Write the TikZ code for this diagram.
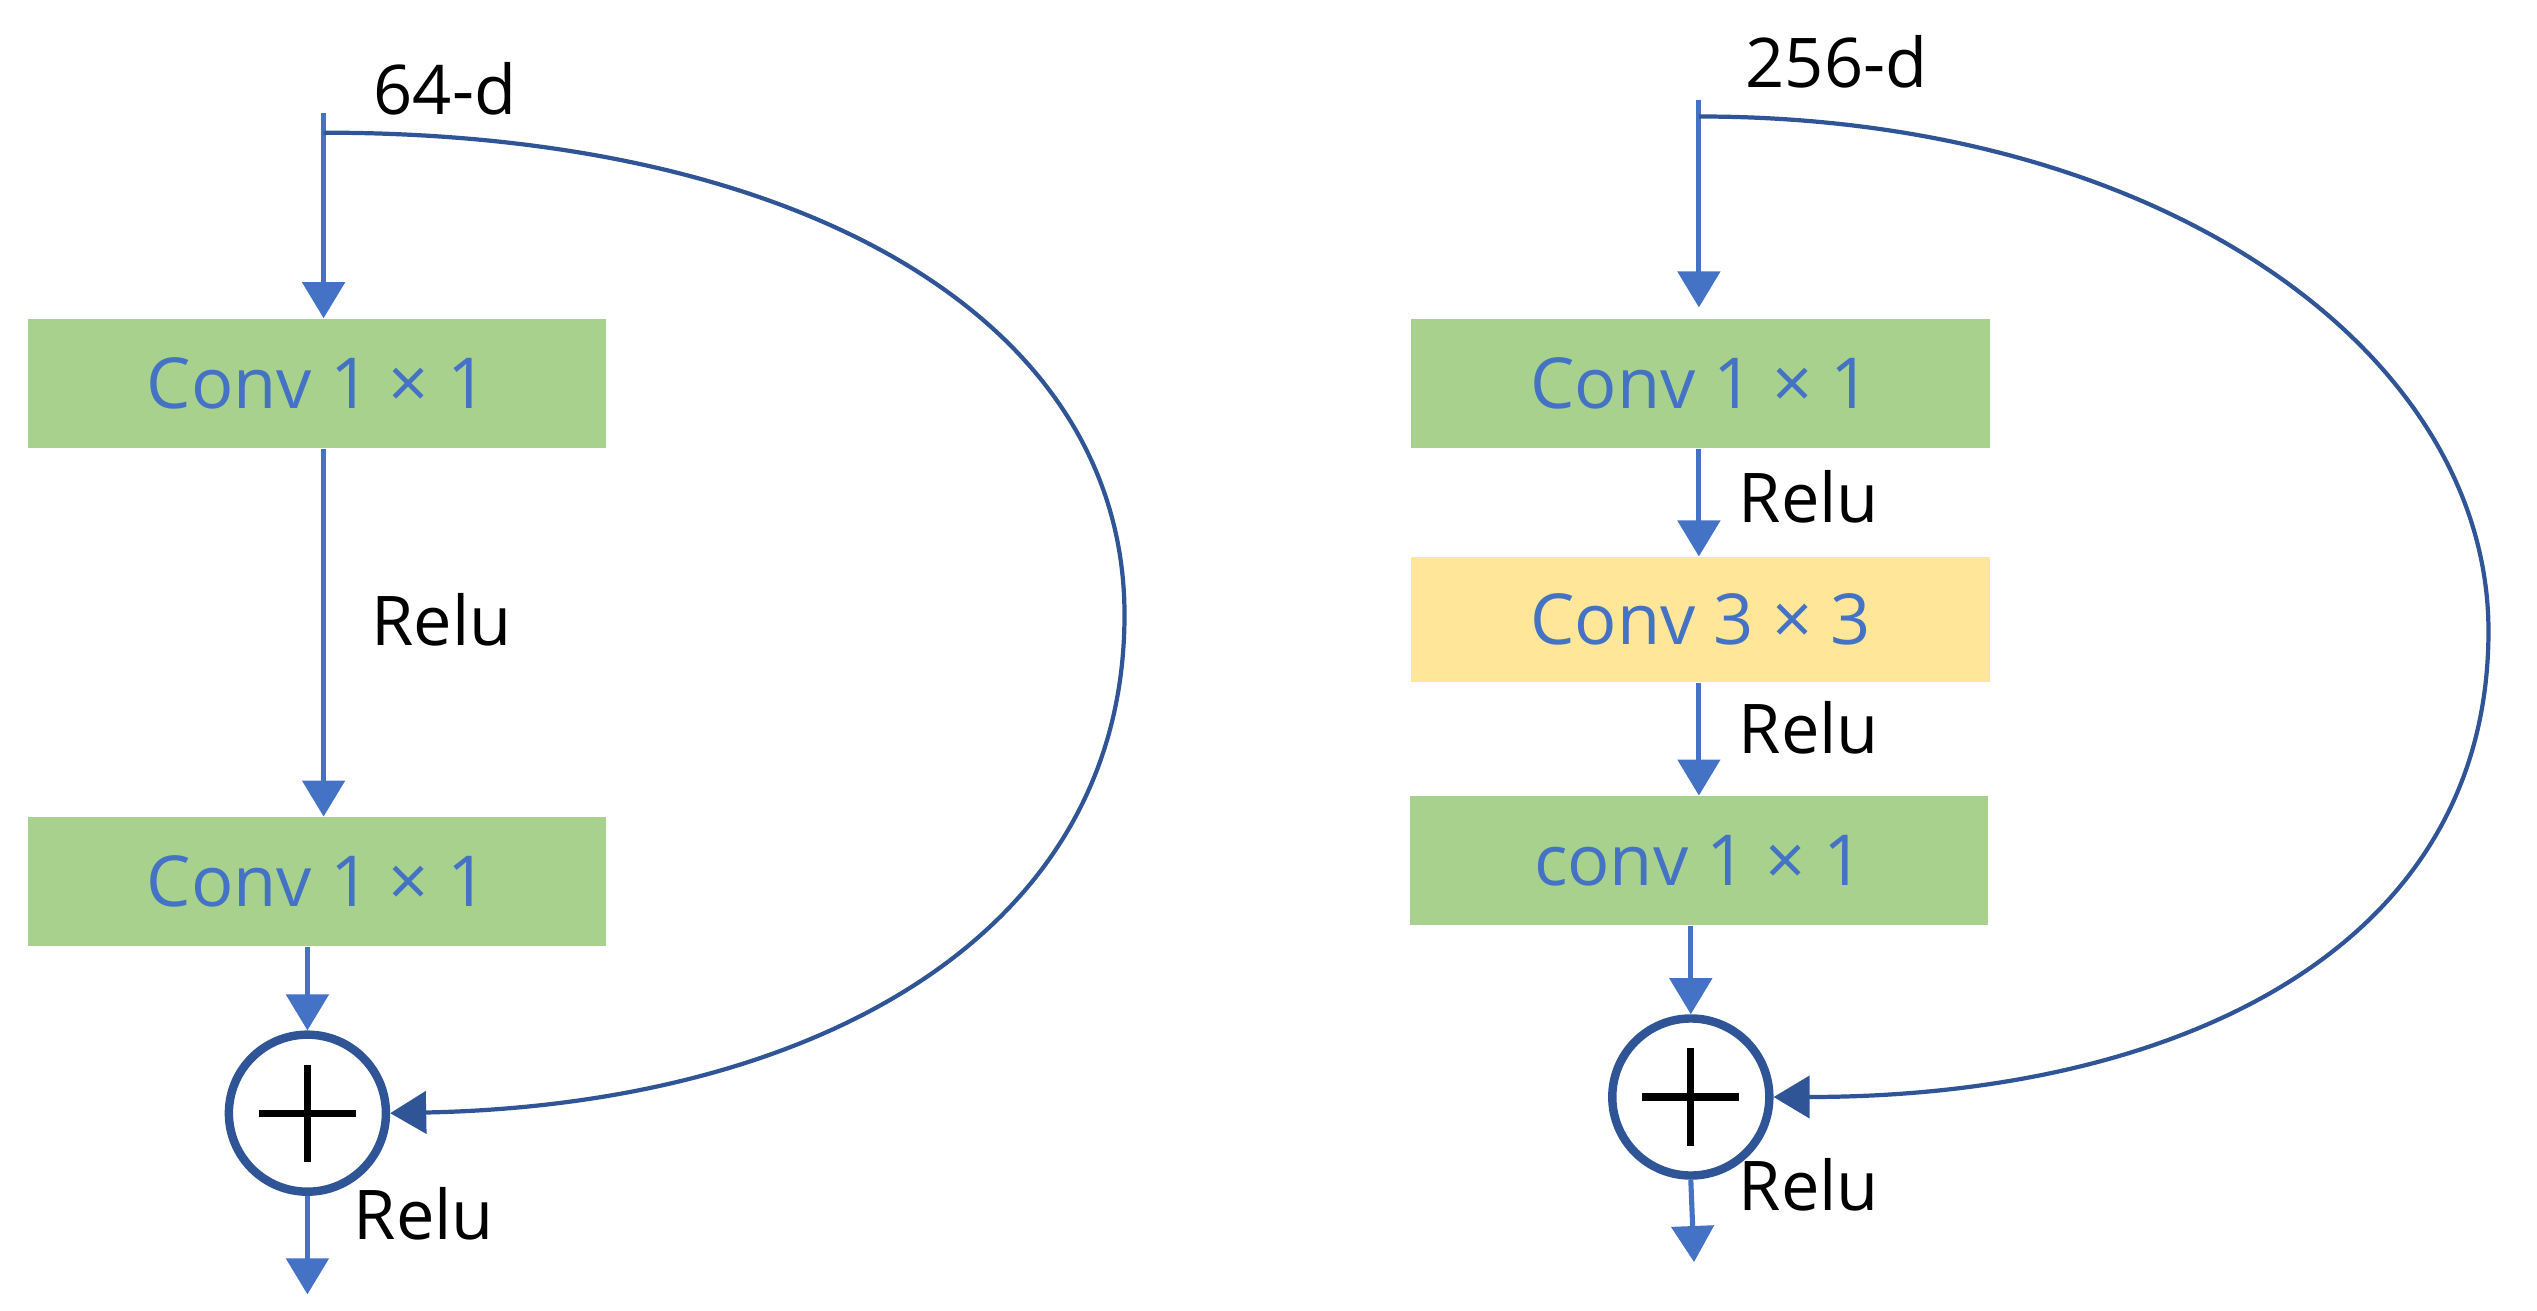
\documentclass[tikz,border=0pt]{standalone}
\usepackage{fontspec}
\setmainfont{Open Sans}
\usetikzlibrary{arrows.meta}
\definecolor{lb}{HTML}{4472C4}
\definecolor{db}{HTML}{2F5597}
\definecolor{gr}{HTML}{A9D18E}
\definecolor{yl}{HTML}{FFE699}
\begin{document}
\begin{tikzpicture}[x=0.01618cm,y=-0.01618cm,
  box/.style={draw=none,minimum width=5.78cm,minimum height=1.29cm,inner sep=0pt,text=lb,font=\fontsize{20}{24}\selectfont},
  lab/.style={font=\fontsize{19.5}{23}\selectfont,text=black},
  con/.style={draw=lb,line width=1.45pt,-{Triangle[width=0.42cm,length=0.36cm]}},
  skip/.style={con,draw=db,line width=1.2pt},
  sum/.style={circle,draw=db,line width=2.4pt,minimum size=1.57cm,inner sep=0pt}]
\useasboundingbox (0,0) rectangle (1568,810);
% left
\coordinate (lin) at (200,70);
\coordinate (lsk) at (200,82);
\coordinate (lout) at (190,800);
\node[box,fill=gr] (l1) at (196,237) {Conv 1 × 1};
\node[box,fill=gr] (l2) at (196,545) {Conv 1 × 1};
\node[sum] (ls) at (190,688) {};
\draw[line width=2pt] (ls.center)+(-30,0) -- +(30,0) (ls.center)+(0,-30) -- +(0,30);
\node[lab] at (275,55) {64-d};
\node[lab] at (273,383) {Relu};
\node[lab] at (262,750) {Relu};
\draw[con] (lin) -- (l1.north -| lin);
\draw[con] (l1.south -| lin) -- (l2.north -| lin);
\draw[con] (l2.south -| ls) -- (ls.north);
\draw[con] (ls.south) -- (lout);
\draw[skip] (lsk) .. controls (500,82) and (695,200) .. (695,380) .. controls (695,580) and (500,683) .. (ls.east);
% right
\coordinate (rin) at (1050,62);
\coordinate (rsk) at (1050,72);
\coordinate (rout) at (1047,780);
\node[box,fill=gr] (r1) at (1051,237) {Conv 1 × 1};
\node[box,fill=yl,minimum height=1.25cm] (r2) at (1051,383) {Conv 3 × 3};
\node[box,fill=gr] (r3) at (1050,532) {conv 1 × 1};
\node[sum] (rs) at (1045,678) {};
\draw[line width=2pt] (rs.center)+(-30,0) -- +(30,0) (rs.center)+(0,-30) -- +(0,30);
\node[lab] at (1135,38) {256-d};
\node[lab] at (1118,307) {Relu};
\node[lab] at (1118,450) {Relu};
\node[lab] at (1118,732) {Relu};
\draw[con] (rin) -- (1050,190);
\draw[con] (r1.south -| rin) -- (r2.north -| rin);
\draw[con] (r2.south -| rin) -- (r3.north -| rin);
\draw[con] (r3.south -| rs) -- (rs.north);
\draw[con] (rs.south) -- (rout);
\draw[skip] (rsk) .. controls (1340,72) and (1538,220) .. (1538,390) .. controls (1538,590) and (1340,678) .. (rs.east);
\end{tikzpicture}
\end{document}
